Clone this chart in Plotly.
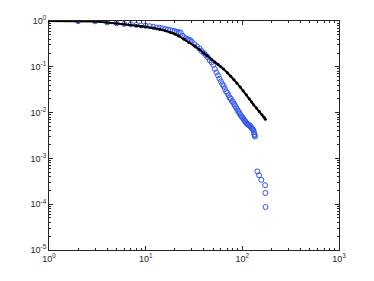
"""Log-log CCDF chart: empirical (blue open circles) vs fitted curve (black)."""

import plotly.graph_objects as go

# Fitted curve (black line with dots).
fit_x = [1, 2, 3, 4, 5, 6, 7, 8, 9, 10, 12, 14, 16, 18, 20, 22, 25, 28, 32,
         36, 40, 43, 48, 52, 56, 60, 64, 70, 76, 82, 88, 95, 102, 110, 118,
         125, 131, 140, 150, 160, 168, 173]
fit_y = [1.0, 0.99, 0.97, 0.93, 0.89, 0.86, 0.83, 0.80, 0.77, 0.745, 0.70,
         0.66, 0.61, 0.57, 0.52, 0.47, 0.40, 0.34, 0.285, 0.238, 0.20, 0.176,
         0.147, 0.128, 0.113, 0.100, 0.089, 0.074, 0.062, 0.052, 0.044, 0.036,
         0.030, 0.0245, 0.020, 0.017, 0.0148, 0.0126, 0.0106, 0.0090, 0.0079,
         0.0072]

# Empirical distribution (blue open circles).
emp_x = [2, 3, 4, 5, 6, 7, 8, 9, 10, 11, 12, 13, 14, 15, 16, 17, 18, 19, 20,
         21, 22, 23, 24, 25, 26, 27, 28, 29, 30, 32, 34, 36, 38, 40, 42, 44,
         46, 48, 50, 52, 54, 56, 58, 60, 62, 64, 66, 68, 70, 72, 74, 76, 78,
         80, 82, 84, 86, 88, 90, 92, 94, 96, 98, 100, 102, 104, 106, 108, 110,
         112, 114, 116, 118, 120, 122, 124, 126, 128, 130, 132, 133, 134, 135,
         143, 149, 157, 172, 173, 174]
emp_y = [0.99, 0.985, 0.93, 0.89, 0.86, 0.85, 0.82, 0.80, 0.785, 0.77, 0.75,
         0.72, 0.71, 0.69, 0.67, 0.65, 0.63, 0.61, 0.60, 0.58, 0.57, 0.56,
         0.48, 0.44, 0.42, 0.40, 0.39, 0.38, 0.35, 0.31, 0.28, 0.25, 0.22,
         0.20, 0.18, 0.16, 0.14, 0.125, 0.11, 0.09, 0.075, 0.065, 0.055,
         0.048, 0.042, 0.038, 0.033, 0.029, 0.027, 0.024, 0.021, 0.020, 0.018,
         0.017, 0.0155, 0.014, 0.013, 0.012, 0.011, 0.0102, 0.0095, 0.0088,
         0.0083, 0.0079, 0.0075, 0.0070, 0.0066, 0.0063, 0.0059, 0.0057,
         0.0055, 0.0054, 0.0053, 0.0051, 0.0049, 0.0047, 0.0045, 0.0043,
         0.0041, 0.0037, 0.0034, 0.0032, 0.0030,
         0.00052, 0.00043, 0.00034, 0.00026, 0.000176, 0.000087]

x_tickvals = [1, 10, 100, 1000]
x_ticktext = ["10<sup>0</sup>", "10<sup>1</sup>", "10<sup>2</sup>", "10<sup>3</sup>"]
y_tickvals = [1e-5, 1e-4, 1e-3, 1e-2, 1e-1, 1]
y_ticktext = ["10<sup>-5</sup>", "10<sup>-4</sup>", "10<sup>-3</sup>",
              "10<sup>-2</sup>", "10<sup>-1</sup>", "10<sup>0</sup>"]

fig = go.Figure()

fig.add_trace(go.Scatter(
    x=emp_x, y=emp_y, mode="markers",
    marker={"symbol": "circle-open", "size": 5, "color": "#3355ee",
            "line": {"width": 1, "color": "#3355ee"}},
    showlegend=False,
))
fig.add_trace(go.Scatter(
    x=fit_x, y=fit_y, mode="lines+markers",
    line={"color": "#000000", "width": 2},
    marker={"color": "#000000", "size": 3},
    showlegend=False,
))

axis_common = dict(
    type="log",
    automargin=False,
    showgrid=False,
    zeroline=False,
    showline=True,
    linecolor="#262626",
    linewidth=1,
    mirror="allticks",
    ticks="inside",
    ticklen=4,
    tickcolor="#262626",
    tickfont={"family": "Liberation Sans, Arial, sans-serif", "size": 9,
              "color": "#262626"},
    minor={"ticks": "inside", "ticklen": 2, "tickcolor": "#262626",
           "dtick": "D1", "showgrid": False},
)

fig.update_xaxes(range=[0, 3], tickmode="array", tickvals=x_tickvals,
                 ticktext=x_ticktext, **axis_common)
fig.update_yaxes(range=[-5, 0], tickmode="array", tickvals=y_tickvals,
                 ticktext=y_ticktext, **axis_common)

fig.update_layout(
    width=374,
    height=281,
    margin={"l": 49, "r": 35, "t": 21, "b": 31},
    paper_bgcolor="#ffffff",
    plot_bgcolor="#ffffff",
)

# Drop the default page margin so the axes box sits where the reference has it.
fig.write_html("out.html", config={"displayModeBar": False},
               post_script="document.body.style.margin = '0';")
